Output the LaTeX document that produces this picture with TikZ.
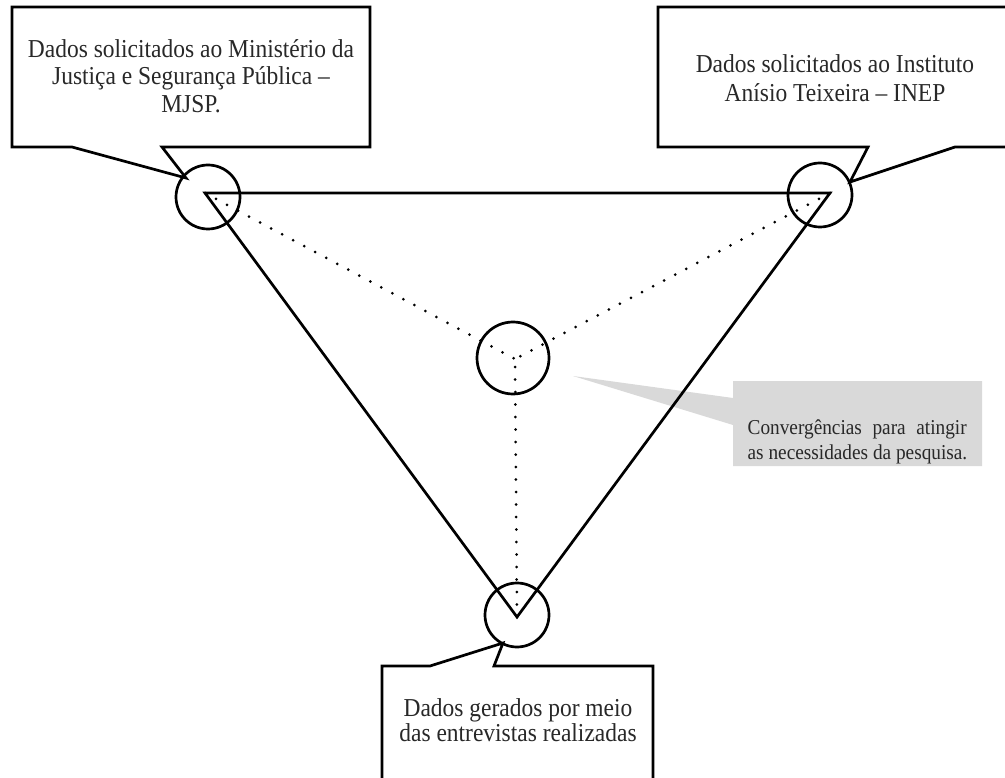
\documentclass[tikz,border=0pt]{standalone}
\usepackage{fontspec}
\setmainfont{Liberation Serif}
\newfontfamily\tallserif[FakeStretch=0.91]{Liberation Serif}
\definecolor{callgray}{RGB}{217,217,217}
\definecolor{txt}{RGB}{40,40,40}
\tikzset{
  outline/.style={draw=black, line width=2.7pt, line join=miter},
  ring/.style={circle, draw=black, line width=2.7pt, minimum size=64pt, inner sep=0pt},
  bigring/.style={ring, minimum size=72pt},
  tri/.style={draw=black, line width=2.7pt, line join=miter},
  dots/.style={draw=black, line width=3pt, line cap=round, dash pattern=on 0pt off 12.5pt},
  boxtext/.style={align=center, inner sep=0pt, text=txt, font=\tallserif\fontsize{25.8}{27.5}\selectfont},
  graytext/.style={align=left, inner sep=0pt, text=txt, font=\tallserif\fontsize{21.2}{24.5}\selectfont}
}
\begin{document}
\begin{tikzpicture}[x=1pt, y=-1pt]
\useasboundingbox (0,0) rectangle (1005,778);
\clip (0,0) rectangle (1005,778);

% triangle vertices and centre
\coordinate (tl) at (205,193);
\coordinate (tr) at (830,193);
\coordinate (bt) at (517,617);
\coordinate (ct) at (515,359);

% grey callout (behind)
\fill[callgray] (733,381) -- (982,381) -- (982,466) -- (733,466) -- (733,425) -- (573,376) -- (733,398) -- cycle;
\node[graytext] (conv) at (857.5,442) {\hbox to 219pt{Convergências\hfill para\hfill atingir}\\as necessidades da pesquisa.};

% dotted lines to centre
\draw[dots] (tl) -- (ct);
\draw[dots] (tr) -- (ct);
\draw[dots] (bt) -- (ct);

% main triangle
\draw[tri] (tl) -- (tr) -- (bt) -- cycle;

% circles
\node[ring] (cl) at (208,197) {};
\node[ring] (cr) at (820,195) {};
\node[ring] (cb) at (517,615) {};
\node[bigring] (cc) at (513,358) {};

% left callout
\draw[outline] (12,7) -- (370,7) -- (370,147) -- (162,147) -- (186,178) -- (72,147) -- (12,147) -- cycle;
\node[boxtext] (mjsp) at (191,76) {Dados solicitados ao Ministério da\\Justiça e Segurança Pública –\\MJSP.};

% right callout
\draw[outline] (658,7) -- (1012,7) -- (1012,147) -- (955,147) -- (850,182) -- (868,147) -- (658,147) -- cycle;
\node[boxtext, font=\tallserif\fontsize{25.8}{29.5}\selectfont] (inep) at (835,78) {Dados solicitados ao Instituto\\Anísio Teixeira – INEP};

% bottom callout
\draw[outline] (382,790) -- (382,666) -- (430,666) -- (503,643) -- (494,666) -- (653,666) -- (653,790);
\node[boxtext, font=\tallserif\fontsize{25.8}{25}\selectfont] (entr) at (518,720) {Dados gerados por meio\\das entrevistas realizadas};
\end{tikzpicture}
\end{document}
